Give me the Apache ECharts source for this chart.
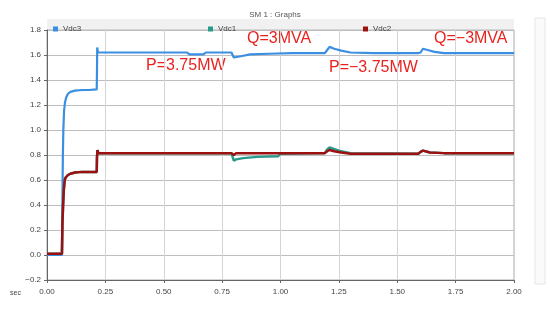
<!DOCTYPE html>
<html>
<head>
<meta charset="utf-8">
<script src="https://cdn.jsdelivr.net/npm/echarts@6/dist/echarts.min.js"></script>
<style>
  html, body { margin: 0; padding: 0; background: #fff; }
  #main { width: 550px; height: 315px; }
</style>
</head>
<body>
<div id="main"></div>
<script>
// series (time in sec, value)
var tVdc3 = [0, 0.064, 0.066, 0.068, 0.070, 0.073, 0.077, 0.082, 0.09, 0.10, 0.12, 0.15, 0.18, 0.213, 0.214, 0.215, 0.218, 0.222, 0.23, 0.40, 0.60, 0.61, 0.67, 0.68, 0.79, 0.80, 0.805, 0.83, 0.87, 0.95, 1.05, 1.19, 1.20, 1.21, 1.23, 1.26, 1.30, 1.40, 1.59, 1.60, 1.61, 1.63, 1.66, 1.70, 2.0];
var vVdc3 = [0, 0, 0.45, 0.8, 1.0, 1.15, 1.22, 1.26, 1.29, 1.305, 1.315, 1.32, 1.32, 1.325, 1.45, 1.66, 1.62, 1.625, 1.62, 1.62, 1.62, 1.605, 1.605, 1.62, 1.62, 1.58, 1.57, 1.59, 1.605, 1.61, 1.615, 1.615, 1.64, 1.665, 1.65, 1.635, 1.62, 1.615, 1.615, 1.62, 1.65, 1.64, 1.625, 1.615, 1.615];

var tVdc1 = [0, 0.064, 0.066, 0.069, 0.072, 0.076, 0.08, 0.09, 0.10, 0.12, 0.15, 0.213, 0.214, 0.216, 0.22, 0.23, 0.79, 0.80, 0.81, 0.84, 0.90, 0.99, 1.0, 1.19, 1.20, 1.21, 1.25, 1.30, 1.59, 1.60, 1.61, 1.64, 1.70, 2.0];
var vVdc1 = [0.01, 0.01, 0.25, 0.40, 0.52, 0.60, 0.62, 0.64, 0.65, 0.66, 0.665, 0.665, 0.78, 0.84, 0.815, 0.815, 0.815, 0.755, 0.765, 0.775, 0.785, 0.79, 0.81, 0.815, 0.845, 0.86, 0.835, 0.815, 0.81, 0.825, 0.835, 0.82, 0.815, 0.815];

var tVdc2 = [0, 0.064, 0.066, 0.069, 0.072, 0.076, 0.08, 0.09, 0.10, 0.12, 0.15, 0.213, 0.214, 0.216, 0.22, 0.23, 0.79, 0.80, 0.81, 0.84, 0.90, 1.19, 1.20, 1.21, 1.23, 1.26, 1.30, 1.59, 1.60, 1.61, 1.64, 1.70, 2.0];
var vVdc2 = [0.01, 0.01, 0.25, 0.40, 0.52, 0.60, 0.62, 0.64, 0.65, 0.66, 0.665, 0.665, 0.78, 0.84, 0.815, 0.815, 0.815, 0.80, 0.815, 0.815, 0.815, 0.815, 0.83, 0.84, 0.83, 0.82, 0.81, 0.81, 0.825, 0.835, 0.82, 0.815, 0.815];

var seriesNames = ['Vdc3', 'Vdc1', 'Vdc2'];
var notes = ['P=3.75MW', 'Q=3MVA', 'P=\u22123.75MW', 'Q=\u22123MVA'];

function pairs(t, v) {
  var out = [];
  for (var i = 0; i < t.length; i++) out.push([t[i], v[i]]);
  return out;
}

var myChart = echarts.init(document.getElementById('main'));
var noteStyle = { fill: '#e8231f', fontSize: 16, fontFamily: 'Liberation Sans, Arial, sans-serif' };
var legendBase = { top: 20, icon: 'rect', itemWidth: 5, itemHeight: 5, itemGap: 4, textStyle: { fontSize: 8, color: '#444' } };

var option = {
  animation: false,
  backgroundColor: '#fff',
  title: {
    text: 'SM 1 : Graphs',
    left: 'center', top: 6,
    textStyle: { fontSize: 8, fontWeight: 'normal', color: '#555' }
  },
  legend: [
    Object.assign({ data: ['Vdc3'], left: 48 }, legendBase),
    Object.assign({ data: ['Vdc1'], left: 203 }, legendBase),
    Object.assign({ data: ['Vdc2'], left: 358 }, legendBase)
  ],
  grid: {
    left: 47, right: 36, top: 30, bottom: 35,
    show: true, borderColor: '#aaa', borderWidth: 1
  },
  xAxis: {
    type: 'value', min: 0, max: 2, interval: 0.25,
    axisLine: { show: true, onZero: false, lineStyle: { color: '#666' } },
    axisTick: { show: true, length: 3, lineStyle: { color: '#666' } },
    axisLabel: { fontSize: 8, color: '#444', margin: 8, formatter: function (v) { return v.toFixed(2); } },
    splitLine: { show: true, lineStyle: { color: '#d4d4d4' } }
  },
  yAxis: {
    type: 'value', min: -0.2, max: 1.8, interval: 0.2,
    axisLine: { show: true, onZero: false, lineStyle: { color: '#666' } },
    axisTick: { show: true, length: 3, lineStyle: { color: '#666' } },
    axisLabel: { fontSize: 8, color: '#444', margin: 6, formatter: function (v) { return v.toFixed(1).replace('-', '\u2212'); } },
    splitLine: { show: true, lineStyle: { color: '#bdbdbd' } }
  },
  graphic: [
    { type: 'rect', z: -1, shape: { x: 47, y: 19, width: 467, height: 10 }, style: { fill: '#f1f1f1' } },
    { type: 'text', left: 10, top: 290, style: { text: 'sec', fontSize: 7, fill: '#444' } },
    { type: 'rect', shape: { x: 535, y: 18, width: 10, height: 266 }, style: { fill: '#fafafa', stroke: '#e6e6e6' } },
    { type: 'text', left: 146, top: 58, style: Object.assign({ text: notes[0] }, noteStyle) },
    { type: 'text', left: 247, top: 31, style: Object.assign({ text: notes[1] }, noteStyle) },
    { type: 'text', left: 329, top: 60, style: Object.assign({ text: notes[2] }, noteStyle) },
    { type: 'text', left: 434, top: 31, style: Object.assign({ text: notes[3] }, noteStyle) }
  ],
  series: [
    { name: seriesNames[0], type: 'line', data: pairs(tVdc3, vVdc3), showSymbol: false, color: '#3b8fe3', lineStyle: { width: 2.2 } },
    { name: seriesNames[1], type: 'line', data: pairs(tVdc1, vVdc1), showSymbol: false, color: '#2a9a8a', lineStyle: { width: 2.5 } },
    { name: seriesNames[2], type: 'line', data: pairs(tVdc2, vVdc2), showSymbol: false, color: '#9c1010', lineStyle: { width: 2.5 } }
  ]
};
myChart.setOption(option);
</script>
</body>
</html>
